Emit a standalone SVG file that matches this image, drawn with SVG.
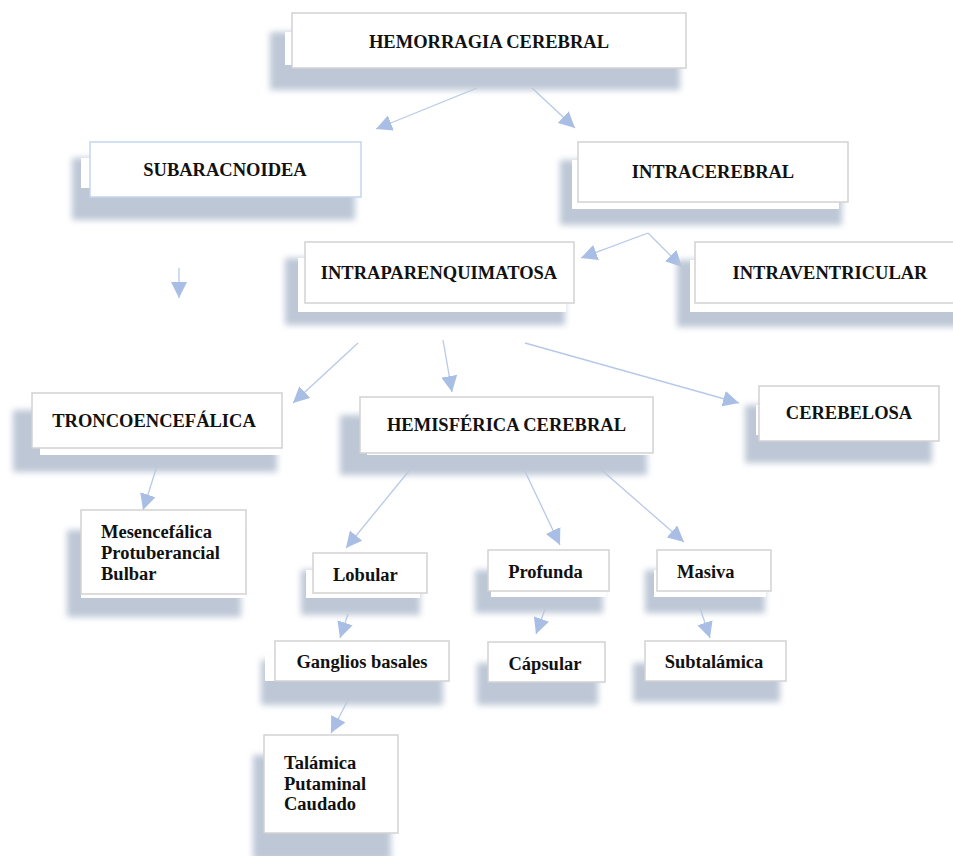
<svg xmlns="http://www.w3.org/2000/svg" width="953" height="856" viewBox="0 0 953 856">
<defs>
<filter id="blur" x="-10%" y="-30%" width="120%" height="160%"><feGaussianBlur stdDeviation="3"/></filter>
<marker id="ah" markerUnits="userSpaceOnUse" markerWidth="16" markerHeight="16" refX="16" refY="8" orient="auto" viewBox="0 0 16 16"><path d="M0,0 L16,8 L0,16 z" fill="#a9bee4"/></marker>
</defs>
<style>
.sh{fill:#bdc7d5;filter:url(#blur)}
.ul{fill:#ffffff}
.bx{fill:#ffffff;stroke:#d2d2d2;stroke-width:1.5}
.t{font-family:"Liberation Serif","Times New Roman",serif;font-weight:bold;font-size:18.5px;fill:#111}
.m{text-anchor:middle}
.c{stroke:#b7c9e8;stroke-width:1.3;fill:none;marker-end:url(#ah)}
</style>
<rect width="953" height="856" fill="#ffffff"/>
<g id="connectors">
<line class="c" x1="477" y1="88" x2="376" y2="129"/>
<line class="c" x1="532" y1="88" x2="575" y2="128"/>
<line class="c" x1="179" y1="268" x2="179" y2="298"/>
<line class="c" x1="648" y1="233" x2="581" y2="258"/>
<line class="c" x1="648" y1="233" x2="682" y2="267"/>
<line class="c" x1="358" y1="343" x2="293" y2="403"/>
<line class="c" x1="443" y1="340" x2="452" y2="392"/>
<line class="c" x1="525" y1="343" x2="739" y2="403"/>
<line class="c" x1="157" y1="466" x2="143" y2="510"/>
<line class="c" x1="413" y1="466" x2="346" y2="548"/>
<line class="c" x1="521" y1="463" x2="560" y2="545"/>
<line class="c" x1="597" y1="466" x2="684" y2="542"/>
<line class="c" x1="348" y1="614" x2="340" y2="638"/>
<line class="c" x1="349" y1="698" x2="331" y2="733"/>
<line class="c" x1="545" y1="609" x2="536" y2="634"/>
<line class="c" x1="700" y1="608" x2="710" y2="638"/>
</g>
<g id="n-hemorragia">
<rect class="sh" x="270" y="32" width="410" height="58"/>
<rect class="ul" x="285" y="32" width="395" height="33"/>
<rect class="bx" x="292" y="13" width="394" height="55"/>
<text class="t m" x="489" y="48">HEMORRAGIA CEREBRAL</text>
</g>
<g id="n-subaracnoidea">
<rect class="sh" x="72" y="158" width="283" height="62"/>
<rect class="ul" x="81" y="158" width="274" height="30"/>
<rect class="bx" x="90" y="142" width="271" height="55" style="stroke:#c5d6ef"/>
<text class="t m" x="225" y="176">SUBARACNOIDEA</text>
</g>
<g id="n-intracerebral">
<rect class="sh" x="560" y="160" width="282" height="65"/>
<rect class="ul" x="572" y="160" width="267" height="49"/>
<rect class="bx" x="578" y="142" width="270" height="60"/>
<text class="t m" x="713" y="178">INTRACEREBRAL</text>
</g>
<g id="n-intraparenquimatosa">
<rect class="sh" x="285" y="258" width="280" height="67"/>
<rect class="ul" x="298" y="258" width="268" height="54"/>
<rect class="bx" x="305" y="242" width="269" height="61"/>
<text class="t m" x="439" y="279">INTRAPARENQUIMATOSA</text>
</g>
<g id="n-intraventricular">
<rect class="sh" x="677" y="260" width="290" height="67"/>
<rect class="ul" x="690" y="260" width="270" height="52"/>
<rect class="bx" x="695" y="242" width="270" height="61"/>
<text class="t m" x="830" y="279">INTRAVENTRICULAR</text>
</g>
<g id="n-troncoencefalica">
<rect class="sh" x="13" y="410" width="264" height="62"/>
<rect class="ul" x="40" y="410" width="242" height="45"/>
<rect class="bx" x="32" y="393" width="250" height="55"/>
<text class="t m" x="154" y="427">TRONCOENCEFÁLICA</text>
</g>
<g id="n-hemisferica">
<rect class="sh" x="340" y="415" width="307" height="60"/>
<rect class="ul" x="367" y="415" width="286" height="40"/>
<rect class="bx" x="360" y="397" width="293" height="56"/>
<text class="t m" x="506.5" y="431">HEMISFÉRICA CEREBRAL</text>
</g>
<g id="n-cerebelosa">
<rect class="sh" x="745" y="405" width="187" height="58"/>
<rect class="ul" x="756" y="405" width="180" height="30"/>
<rect class="bx" x="759" y="386" width="180" height="55"/>
<text class="t m" x="849" y="419">CEREBELOSA</text>
</g>
<g id="n-mesencefalica">
<rect class="sh" x="67" y="530" width="174" height="87"/>
<rect class="ul" x="81" y="530" width="164" height="68"/>
<rect class="bx" x="81" y="510" width="165" height="84"/>
<text class="t" x="101" y="538">Mesencefálica</text>
<text class="t" x="101" y="559">Protuberancial</text>
<text class="t" x="101" y="580">Bulbar</text>
</g>
<g id="n-lobular">
<rect class="sh" x="301" y="570" width="119" height="45"/>
<rect class="ul" x="306" y="570" width="114" height="28"/>
<rect class="bx" x="313" y="553" width="114" height="40"/>
<text class="t" x="333" y="581">Lobular</text>
</g>
<g id="n-profunda">
<rect class="sh" x="475" y="570" width="128" height="43"/>
<rect class="ul" x="491" y="570" width="115" height="27"/>
<rect class="bx" x="488" y="550" width="121" height="41"/>
<text class="t m" x="545.5" y="578">Profunda</text>
</g>
<g id="n-masiva">
<rect class="sh" x="645" y="570" width="120" height="43"/>
<rect class="ul" x="654" y="570" width="112" height="27"/>
<rect class="bx" x="657" y="550" width="114" height="41"/>
<text class="t" x="677" y="578">Masiva</text>
</g>
<g id="n-ganglios">
<rect class="sh" x="261" y="660" width="182" height="45"/>
<rect class="ul" x="265" y="655" width="180" height="26"/>
<rect class="bx" x="275" y="641" width="174" height="40"/>
<text class="t m" x="362" y="668">Ganglios basales</text>
</g>
<g id="n-capsular">
<rect class="sh" x="477" y="663" width="121" height="42"/>
<rect class="bx" x="488" y="642" width="117" height="40"/>
<text class="t m" x="545" y="670">Cápsular</text>
</g>
<g id="n-subtalamica">
<rect class="sh" x="633" y="663" width="147" height="39"/>
<rect class="bx" x="645" y="641" width="141" height="40"/>
<text class="t m" x="714" y="668">Subtalámica</text>
</g>
<g id="n-talamica">
<rect class="sh" x="253" y="755" width="138" height="105"/>
<rect class="bx" x="264" y="735" width="134" height="98"/>
<text class="t" x="284" y="769">Talámica</text>
<text class="t" x="284" y="790">Putaminal</text>
<text class="t" x="284" y="810">Caudado</text>
</g>
</svg>
